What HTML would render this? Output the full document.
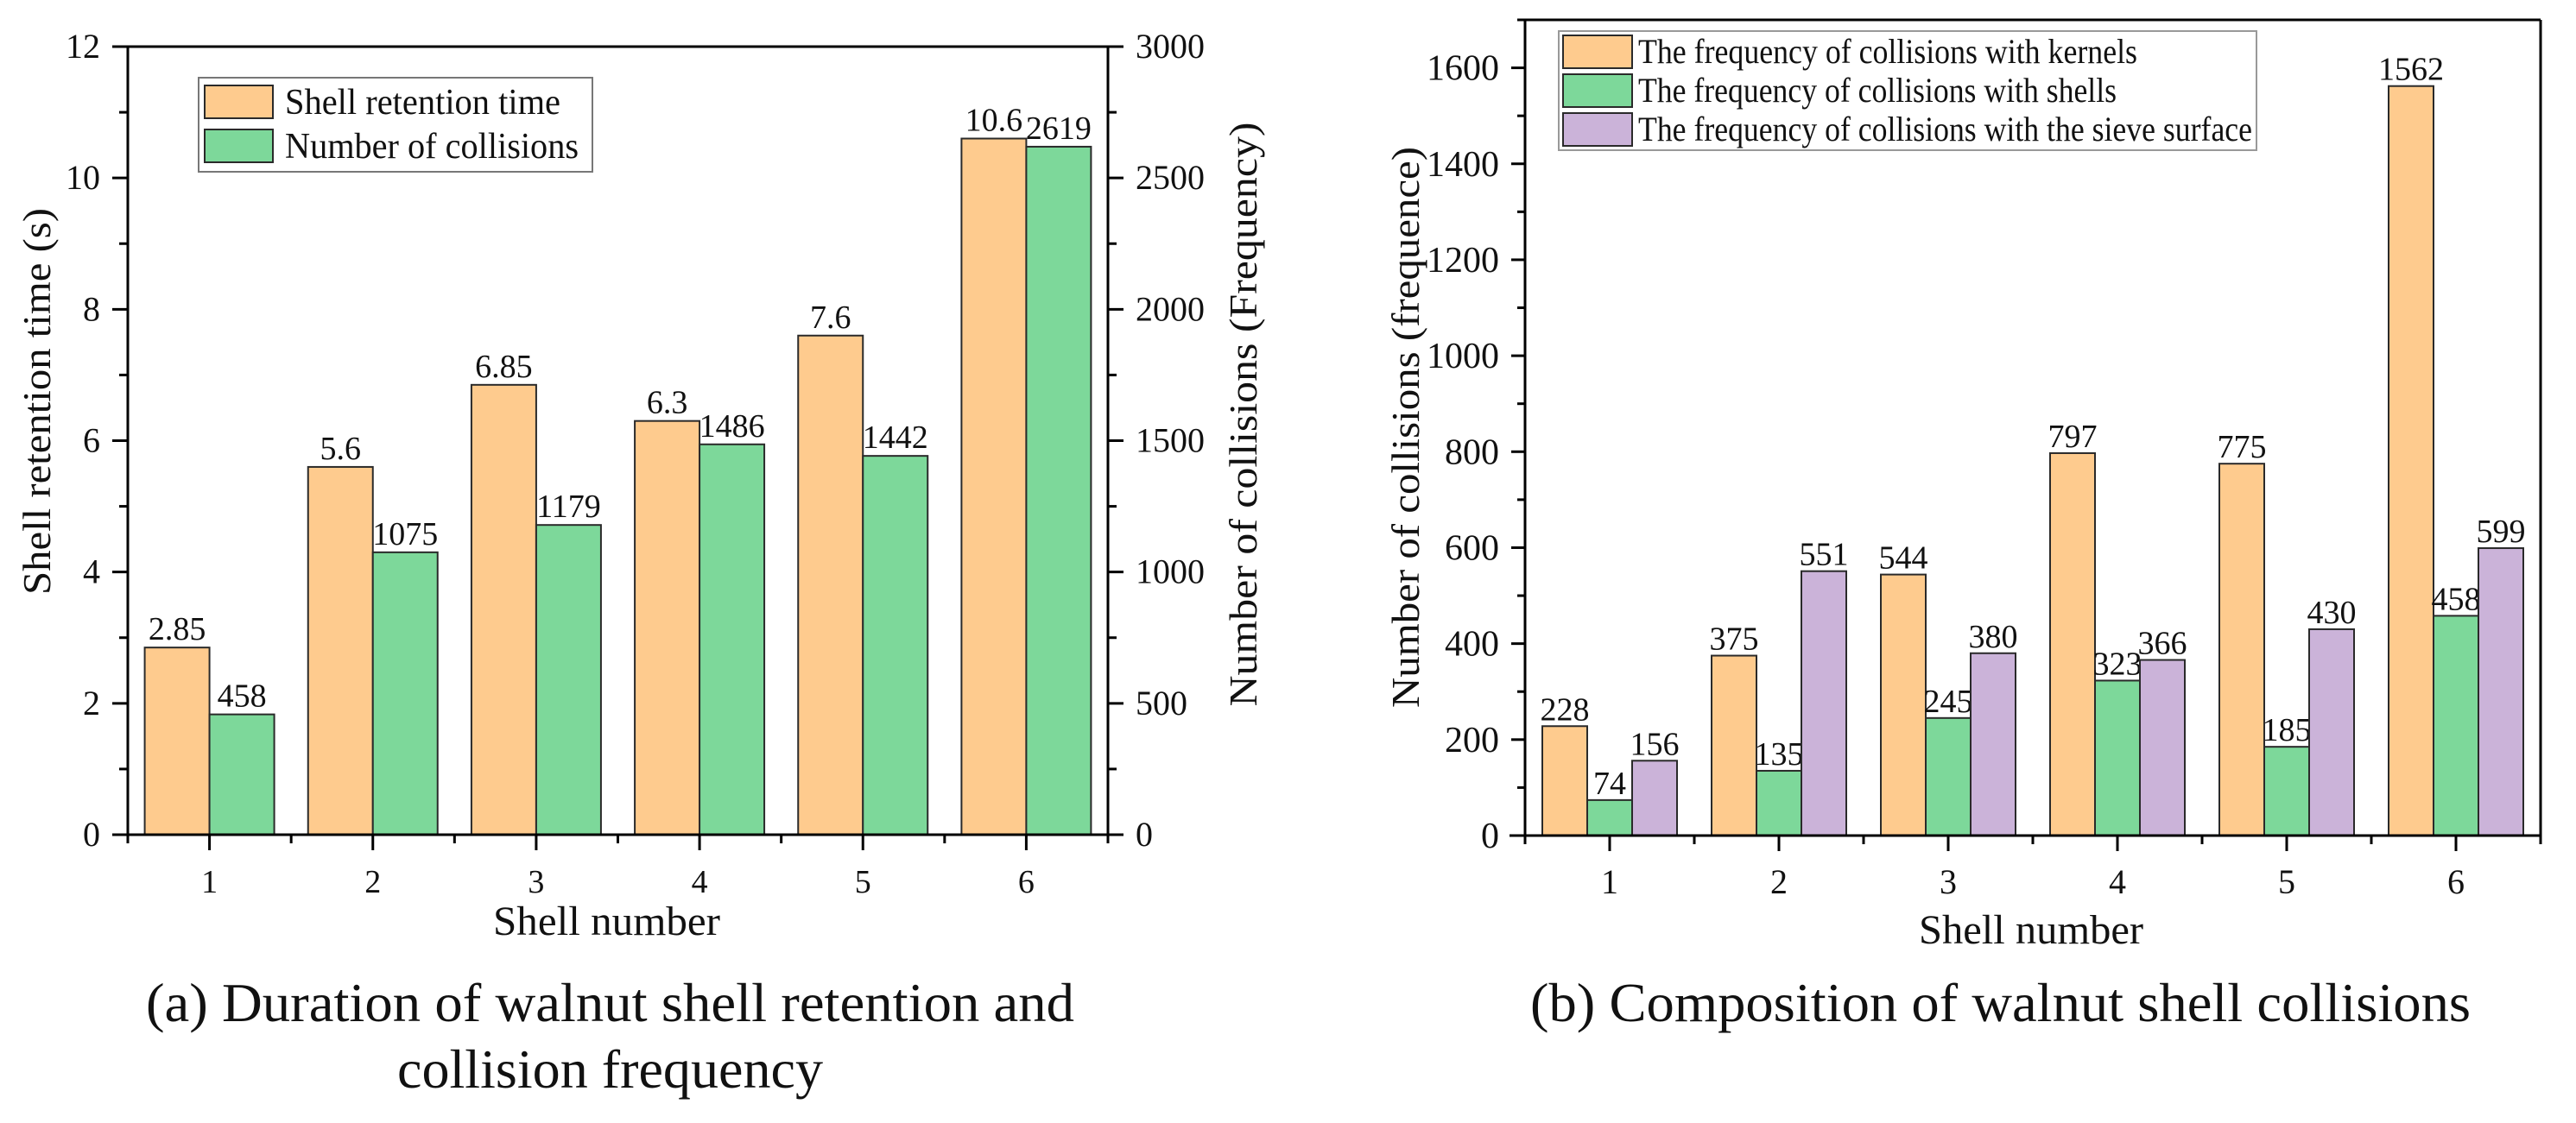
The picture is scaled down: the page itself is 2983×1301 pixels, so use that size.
<!DOCTYPE html>
<html><head><meta charset="utf-8">
<style>
html,body{margin:0;padding:0;background:#fff;}
svg{display:block;}
text{font-family:"Liberation Serif","Times New Roman",serif;fill:#111;}
</style></head>
<body>
<svg id="fig" width="2983" height="1301" viewBox="0 0 2983 1301" xmlns="http://www.w3.org/2000/svg">
<rect width="2983" height="1301" fill="#fff"/>
<g id="chartA"></g>
<g id="chartB"></g>
<text x="169" y="1183" font-size="64" textLength="1075" lengthAdjust="spacingAndGlyphs">(a) Duration of walnut shell retention and</text>
<text x="460" y="1260" font-size="64" textLength="493" lengthAdjust="spacingAndGlyphs">collision frequency</text>
<text x="1772" y="1183" font-size="64" textLength="1089" lengthAdjust="spacingAndGlyphs">(b) Composition of walnut shell collisions</text>
</svg>
<script>
// ---- Chart A data ----
const catsA = ["1","2","3","4","5","6"];
const retention = [2.85, 5.6, 6.85, 6.3, 7.6, 10.6];
const retentionLabels = ["2.85","5.6","6.85","6.3","7.6","10.6"];
const collisions = [458, 1075, 1179, 1486, 1442, 2619];
const leftTicksA = [0,2,4,6,8,10,12];
const rightTicksA = [0,500,1000,1500,2000,2500,3000];
// ---- Chart B data ----
const catsB = ["1","2","3","4","5","6"];
const kernels = [228, 375, 544, 797, 775, 1562];
const shells = [74, 135, 245, 323, 185, 458];
const sieve = [156, 551, 380, 366, 430, 599];
const ticksB = [0,200,400,600,800,1000,1200,1400,1600];

const NS="http://www.w3.org/2000/svg";
const ORANGE="#fecb8e", GREEN="#7dd89a", PURPLE="#cbb3d9", STROKE="#2a2a2a";
function mk(parent, tag, attrs, txt){
  const e=document.createElementNS(NS,tag);
  for(const k in attrs) e.setAttribute(k,attrs[k]);
  if(txt!==undefined) e.textContent=txt;
  parent.appendChild(e); return e;
}
function line(p,x1,y1,x2,y2,w){return mk(p,"line",{x1,y1,x2,y2,stroke:"#000","stroke-width":w||3});}

// ================= Chart A =================
(function(){
  const g=document.getElementById("chartA");
  const L=148,R=1283,T=54,B=967;
  const step=(R-L)/catsA.length;
  const xA=i=>L+step*(i+0.5);
  const yL=v=>B-v/12*(B-T);
  const yR=v=>B-v/3000*(B-T);
  const bw=75;
  catsA.forEach((c,i)=>{
    const cx=xA(i);
    let r=mk(g,"rect",{x:cx-bw,y:yL(retention[i]),width:bw,height:B-yL(retention[i]),fill:ORANGE,stroke:STROKE,"stroke-width":2});
    
    
    let r2=mk(g,"rect",{x:cx,y:yR(collisions[i]),width:bw,height:B-yR(collisions[i]),fill:GREEN,stroke:STROKE,"stroke-width":2});
    
    
    let t=mk(g,"text",{x:cx-bw/2,y:yL(retention[i])-9,"font-size":38,"text-anchor":"middle"},retentionLabels[i]);
    
    
    let t2=mk(g,"text",{x:cx+bw/2,y:yR(collisions[i])-9,"font-size":38,"text-anchor":"middle"},String(collisions[i]));
    
    
    let xl=mk(g,"text",{x:cx,y:1034,"font-size":38,"text-anchor":"middle"},c);
    
    
    line(g,cx,B,cx,B+18,3);
    line(g,L+step*(i+1),B,L+step*(i+1),B+10,3);
  });
  line(g,L,T,R,T,3); line(g,L,T,L,B+10,3); line(g,R,T,R,B,3); line(g,130,B,R,B,3);
  leftTicksA.forEach((v,k)=>{
    const y=yL(v); line(g,L-18,y,L,y,3);
    if(k<leftTicksA.length-1) line(g,L-10,yL(v+1),L,yL(v+1),3);
    let t=mk(g,"text",{x:116,y:y+13,"font-size":40,"text-anchor":"end"},String(v));
    
    
  });
  rightTicksA.forEach((v,k)=>{
    const y=yR(v); line(g,R,y,R+18,y,3);
    if(k<rightTicksA.length-1) line(g,R,yR(v+250),R+10,yR(v+250),3);
    let t=mk(g,"text",{x:1315,y:y+13,"font-size":40},String(v));
    
    
  });
  let yt=mk(g,"text",{x:0,y:0,"font-size":46,"text-anchor":"middle",transform:"translate(58,465) rotate(-90)",textLength:448,lengthAdjust:"spacingAndGlyphs"},"Shell retention time (s)");
  
  
  let yt2=mk(g,"text",{x:0,y:0,"font-size":46,"text-anchor":"middle",transform:"translate(1455,480) rotate(-90)",textLength:677,lengthAdjust:"spacingAndGlyphs"},"Number of collisions (Frequency)");
  
  
  let xt=mk(g,"text",{x:571,y:1083,"font-size":48,textLength:263,lengthAdjust:"spacingAndGlyphs"},"Shell number");
  
  
  const lg=mk(g,"g",{});
  
  
  mk(lg,"rect",{x:230,y:90,width:456,height:109,fill:"#fff",stroke:"#777","stroke-width":2});
  mk(lg,"rect",{x:237,y:99,width:79,height:38,fill:ORANGE,stroke:STROKE,"stroke-width":2});
  mk(lg,"rect",{x:237,y:150,width:79,height:38,fill:GREEN,stroke:STROKE,"stroke-width":2});
  let l1=mk(lg,"text",{x:330,y:132,"font-size":42,textLength:319,lengthAdjust:"spacingAndGlyphs"},"Shell retention time");
  
  
  let l2=mk(lg,"text",{x:330,y:183,"font-size":42,textLength:340,lengthAdjust:"spacingAndGlyphs"},"Number of collisions");
  
  
})();

// ================= Chart B =================
(function(){
  const g=document.getElementById("chartB");
  const L=1766,R=2942,T=23,B=968;
  const step=(R-L)/catsB.length;
  const xB=i=>L+step*(i+0.5);
  const yB=v=>B-v/1700*(B-T);
  const bw=52;
  const series=[[kernels,ORANGE,"kernels"],[shells,GREEN,"shells"],[sieve,PURPLE,"sieve"]];
  catsB.forEach((c,i)=>{
    const cx=xB(i);
    series.forEach((s,j)=>{
      const v=s[0][i], x0=cx-1.5*bw+j*bw;
      let r=mk(g,"rect",{x:x0,y:yB(v),width:bw,height:B-yB(v),fill:s[1],stroke:STROKE,"stroke-width":2});
      
      
      let t=mk(g,"text",{x:x0+bw/2,y:yB(v)-7,"font-size":38,"text-anchor":"middle"},String(v));
      
      
    });
    let xl=mk(g,"text",{x:cx,y:1035,"font-size":40,"text-anchor":"middle"},c);
    
    
    line(g,cx,B,cx,B+18,3);
    line(g,L+step*(i+1),B,L+step*(i+1),B+10,3);
  });
  line(g,L,T,R,T,3); line(g,L,T,L,B+10,3); line(g,R,T,R,B+10,3); line(g,1748,B,R,B,3);
  ticksB.forEach((v)=>{
    const y=yB(v); line(g,L-16,y,L,y,3);
    line(g,L-9,yB(v+100),L,yB(v+100),3);
    let t=mk(g,"text",{x:1736,y:y+14,"font-size":42,"text-anchor":"end"},String(v));
    
    
  });
  let yt=mk(g,"text",{x:0,y:0,"font-size":46,"text-anchor":"middle",transform:"translate(1643,495) rotate(-90)",textLength:650,lengthAdjust:"spacingAndGlyphs"},"Number of collisions (frequence)");
  
  
  let xt=mk(g,"text",{x:2222,y:1093,"font-size":48,textLength:260,lengthAdjust:"spacingAndGlyphs"},"Shell number");
  
  
  const lg=mk(g,"g",{});
  
  
  mk(lg,"rect",{x:1805,y:36,width:808,height:138,fill:"#fff",stroke:"#999","stroke-width":2});
  mk(lg,"rect",{x:1810,y:41,width:80,height:38,fill:ORANGE,stroke:STROKE,"stroke-width":2});
  mk(lg,"rect",{x:1810,y:86,width:80,height:38,fill:GREEN,stroke:STROKE,"stroke-width":2});
  mk(lg,"rect",{x:1810,y:131,width:80,height:38,fill:PURPLE,stroke:STROKE,"stroke-width":2});
  let a=mk(lg,"text",{x:1897,y:73,"font-size":40,textLength:578,lengthAdjust:"spacingAndGlyphs"},"The frequency of collisions with kernels");
  
  
  let b=mk(lg,"text",{x:1897,y:118,"font-size":40,textLength:554,lengthAdjust:"spacingAndGlyphs"},"The frequency of collisions with shells");
  
  
  let c=mk(lg,"text",{x:1897,y:163,"font-size":40,textLength:711,lengthAdjust:"spacingAndGlyphs"},"The frequency of collisions with the sieve surface");
  
  
})();
</script>
</body></html>
